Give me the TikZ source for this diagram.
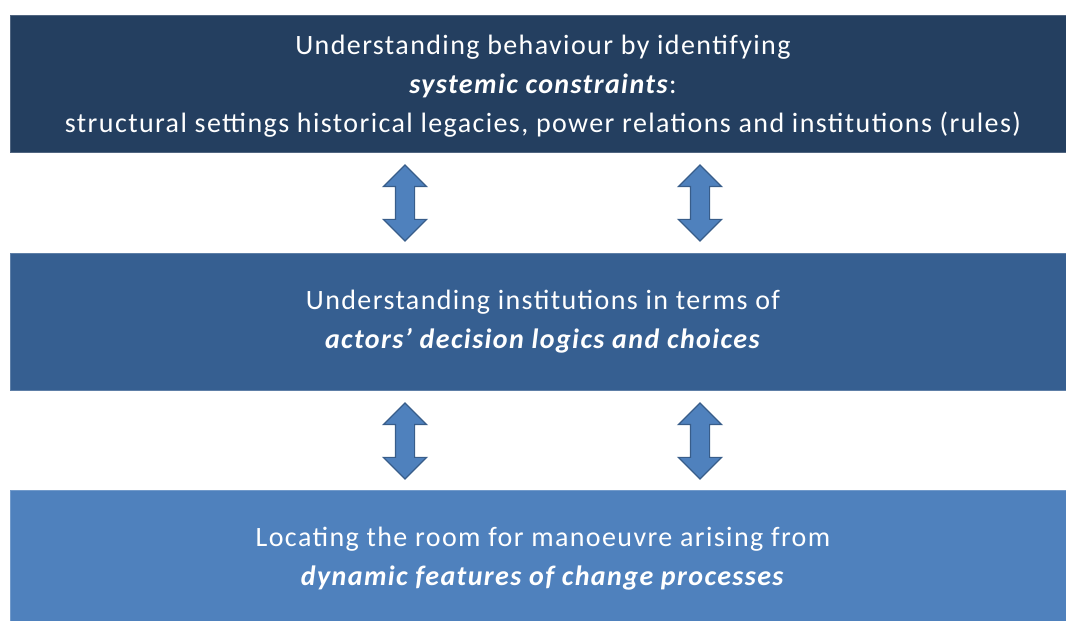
\documentclass[tikz,border=0pt]{standalone}
\usepackage{fontspec}
\setmainfont[LetterSpace=5]{Carlito}
\usepackage{tikz}
\usetikzlibrary{positioning, shapes.arrows}

\definecolor{navydark}{HTML}{243F60}
\definecolor{navymid}{HTML}{365F91}
\definecolor{navylight}{HTML}{4F81BD}
\definecolor{arrowedge}{HTML}{385D8A}

\tikzset{
    level/.style={draw=#1!80!white, fill=#1, line width=1pt, minimum width=1062pt,
        minimum height=137pt, anchor=north west, inner sep=0pt},
    leveltext/.style={text=white, align=center, font=\fontsize{28}{39}\selectfont},
    linkarrow/.style={double arrow, draw=arrowedge, fill=navylight, line width=1.2pt,
        minimum width=42pt, minimum height=76pt, double arrow head extend=12pt,
        inner sep=9pt, shape border rotate=90}
}

\begin{document}
\begin{tikzpicture}[x=1pt, y=1pt]
    \useasboundingbox (0,0) rectangle (1066,621);
    \node (L1) [level=navydark] at (10,606) {};
    \node (L2) [level=navymid] at (10,368) {};
    \node (L3) [level=navylight] at (10,131) {};
    \node (T1) [leveltext] at (543,535) {Understanding behaviour by identifying\\
        \textbf{\textit{systemic constraints}}:\\
        structural settings historical legacies, power relations and institutions (rules)};
    \node (T2) [leveltext] at (543,299) {Understanding institutions in terms of\\
        \textbf{\textit{actors' decision logics and choices}}};
    \node (T3) [leveltext] at (543,62) {Locating the room for manoeuvre arising from\\
        \textbf{\textit{dynamic features of change processes}}};
    \foreach \x [count=\i] in {405,700}{
        \node (A1-\i) [linkarrow] at (\x,418) {};
        \node (A2-\i) [linkarrow] at (\x,180) {};
    }
\end{tikzpicture}
\end{document}
